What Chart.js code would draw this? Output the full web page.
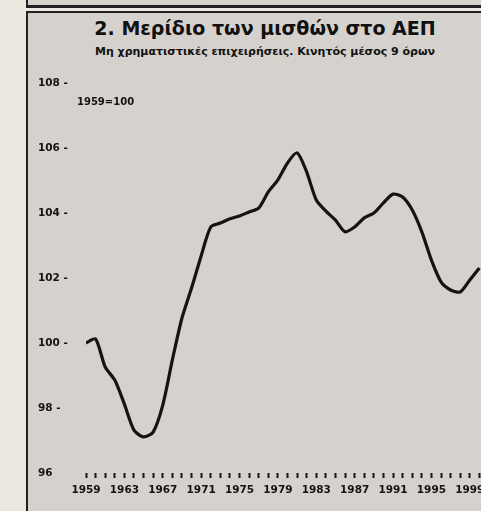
<!DOCTYPE html>
<html>
<head>
<meta charset="utf-8">
<script src="https://cdn.jsdelivr.net/npm/chart.js@4"></script>
<style>
  html, body { margin: 0; padding: 0; width: 481px; height: 511px; overflow: hidden; background: #ebe8e0; }
  .boxTop { position: absolute; left: 26px; top: -4px; width: 470px; height: 9px; background: #d6d2ce; border-left: 2px solid #222; border-bottom: 3px solid #222; }
  .frame { position: absolute; left: 26px; top: 11px; width: 470px; height: 510px; background: #d5d1cd; border-left: 2px solid #222; border-top: 2px solid #222; }
  .title { position: absolute; left: 28px; width: 474px; top: 17px; text-align: center; font: bold 19px "DejaVu Sans", sans-serif; color: #111; }
  .sub { position: absolute; left: 28px; width: 474px; top: 45px; text-align: center; font: bold 11px "DejaVu Sans", sans-serif; color: #111; }
  #wrap { position: absolute; left: 28px; top: 60px; width: 480px; height: 451px; }
</style>
</head>
<body>
<div class="boxTop"></div>
<div class="frame"></div>
<div class="title">2. Μερίδιο των μισθών στο ΑΕΠ</div>
<div class="sub">Μη χρηματιστικές επιχειρήσεις. Κινητός μέσος 9 όρων</div>
<div id="wrap"><canvas id="myChart" width="480" height="451"></canvas></div>
<script>
// 1959=100, moving average of 9 terms
var years = [1959, 1960, 1961, 1962, 1963, 1964, 1965, 1966, 1967, 1968,
             1969, 1970, 1971, 1972, 1973, 1974, 1975, 1976, 1977, 1978,
             1979, 1980, 1981, 1982, 1983, 1984, 1985, 1986, 1987, 1988,
             1989, 1990, 1991, 1992, 1993, 1994, 1995, 1996, 1997, 1998,
             1999, 2000];
var wageShare = [100.0, 100.12, 99.26, 98.86, 98.12, 97.32, 97.11, 97.26, 98.09, 99.48,
                 100.77, 101.69, 102.68, 103.57, 103.69, 103.82, 103.91, 104.03, 104.15, 104.65,
                 105.02, 105.54, 105.85, 105.26, 104.4, 104.06, 103.78, 103.42, 103.57, 103.85,
                 104.0, 104.31, 104.58, 104.49, 104.09, 103.42, 102.55, 101.88, 101.63, 101.57,
                 101.94, 102.31];
var yTicks = [96, 98, 100, 102, 104, 106, 108];
var xLabels = [1959, 1963, 1967, 1971, 1975, 1979, 1983, 1987, 1991, 1995, 1999];
var baseNote = '1959=100';

var ink = '#141414';
var tickFont = { family: '"DejaVu Sans", sans-serif', size: 10.5, weight: 'bold' };

var notePlugin = {
    id: 'note',
    afterDraw: function (chart) {
        var ctx = chart.ctx;
        ctx.save();
        ctx.fillStyle = ink;
        ctx.font = 'bold 10px "DejaVu Sans", sans-serif';
        ctx.textBaseline = 'middle';
        ctx.fillText(baseNote, chart.chartArea.left - 9, chart.scales.y.getPixelForValue(107.4));
        ctx.restore();
    }
};

var ctx = document.getElementById('myChart').getContext('2d');
var myChart = new Chart(ctx, {
    type: 'line',
    data: {
        datasets: [{
            label: 'Μερίδιο των μισθών στο ΑΕΠ',
            data: years.map(function (y, i) { return { x: y, y: wageShare[i] }; }),
            borderColor: ink,
            borderWidth: 3.2,
            pointRadius: 0,
            tension: 0.25,
            fill: false
        }]
    },
    options: {
        responsive: false,
        animation: false,
        layout: { padding: { left: 10, right: 19, top: 23, bottom: 13 } },
        plugins: { legend: { display: false }, tooltip: { enabled: false } },
        scales: {
            x: {
                type: 'linear',
                min: 1959,
                max: 2001,
                border: { display: false },
                grid: { drawOnChartArea: false, drawTicks: true, tickLength: 5, tickWidth: 2, tickColor: ink },
                ticks: {
                    stepSize: 1,
                    autoSkip: false,
                    maxRotation: 0,
                    padding: 6,
                    color: ink,
                    font: tickFont,
                    callback: function (v) { return xLabels.indexOf(v) >= 0 ? String(v) : ''; }
                },
                afterFit: function (scale) { scale.height = 25; }
            },
            y: {
                min: 96,
                max: 108,
                border: { display: false },
                grid: { display: false },
                afterBuildTicks: function (scale) { scale.ticks = yTicks.map(function (v) { return { value: v }; }); },
                ticks: {
                    crossAlign: 'far',
                    color: ink,
                    font: tickFont,
                    callback: function (v) { return v === 96 ? '96' : v + ' -'; }
                },
                afterFit: function (scale) { scale.width = 48; }
            }
        }
    },
    plugins: [notePlugin]
});
</script>
</body>
</html>
